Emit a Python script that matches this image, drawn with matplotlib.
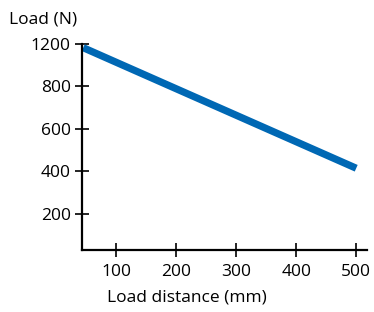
import matplotlib
matplotlib.use("Agg")
import matplotlib.pyplot as plt
import numpy as np

# data
distance = [45, 500]          # mm
load = [1165, 415]            # N
yticks = [200, 400, 600, 800, 1200]
xticks = [100, 200, 300, 400, 500]

plt.rcParams['font.family'] = ['Open Sans', 'DejaVu Sans']

# the original axis squeezes 800-1200 into one tick step
def fwd(y):
    y = np.asarray(y, dtype=float)
    return np.where(y <= 800, y, 800 + (y - 800) / 2)

def inv(y):
    y = np.asarray(y, dtype=float)
    return np.where(y <= 800, y, 800 + (y - 800) * 2)

fig = plt.figure(figsize=(3.74, 3.12), dpi=100)
ax = fig.add_axes([0.2193, 0.1987, 0.9813 - 0.2193, 0.859 - 0.1987])
ax.set_yscale('function', functions=(fwd, inv))

ax.plot(distance, load, color='#0068B4', lw=5.2, solid_capstyle='butt')

ax.set_xlim(43, 518)
ax.set_ylim(30, 1200)
ax.set_xticks(xticks)
ax.set_yticks(yticks)
ax.set_xticklabels([str(t) for t in xticks])
ax.set_yticklabels([str(t) for t in yticks])
ax.minorticks_off()

for s in ['top', 'right']:
    ax.spines[s].set_visible(False)
for s in ['left', 'bottom']:
    ax.spines[s].set_linewidth(1.6)
ax.tick_params(direction='inout', length=10, width=1.2, labelsize=12.5, color='black')
ax.tick_params(axis='y', pad=3)
ax.tick_params(axis='x', pad=5)

fig.text(0.025, 0.938, 'Load (N)', fontsize=12.5, ha='left', va='center')
fig.text(0.50, 0.047, 'Load distance (mm)', fontsize=12.5, ha='center', va='center')

fig.savefig('out.png', dpi=100)
